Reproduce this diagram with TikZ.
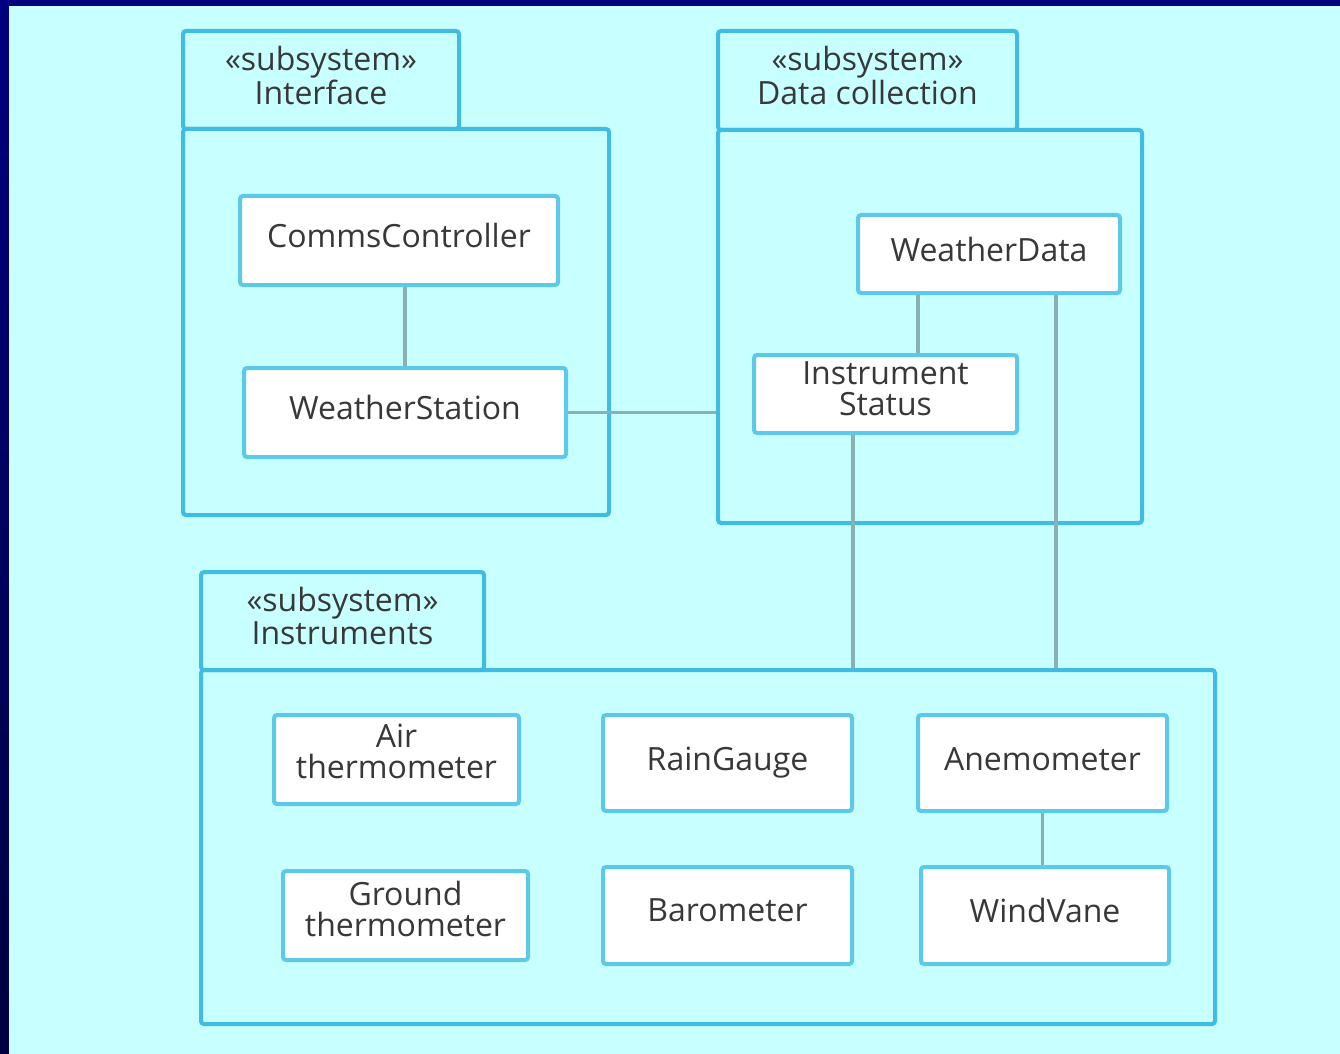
\documentclass[tikz,border=0pt]{standalone}
\usepackage{fontspec}
\setmainfont{Open Sans}
\usetikzlibrary{calc}
\definecolor{navy}{HTML}{000080}
\definecolor{navydark}{HTML}{000040}
\definecolor{paper}{HTML}{C8FFFF}
\definecolor{frame}{HTML}{3FBCE4}
\definecolor{classframe}{HTML}{5CC8EA}
\definecolor{wire}{HTML}{8AB0B2}
\definecolor{ink}{HTML}{383838}
\tikzset{
  lbl/.style={text=ink, font=\fontsize{16}{15.5}\selectfont, align=center, inner sep=0pt},
  pkgtab/.style={lbl, font=\fontsize{16}{14.8}\selectfont, text depth=5pt, draw=frame, line width=2pt, rounded corners=1.5pt, anchor=north west},
  pkgbody/.style={draw=frame, line width=2pt, rounded corners=1.5pt, anchor=north west, inner sep=0pt},
  cls/.style={lbl, text depth=5pt, draw=classframe, fill=white, line width=2pt, rounded corners=1.5pt, anchor=north west},
  wireline/.style={draw=wire, line width=1.6pt}
}
\begin{document}
\begin{tikzpicture}[x=0.5pt,y=-0.5pt]
% backdrop: navy edges, light cyan field
\fill[navy] (0,0) rectangle (1340,1054);
\shade[top color=navy, bottom color=navydark] (0,0) rectangle (9,1054);
\fill[paper] (9,6) rectangle (1340,1054);
\useasboundingbox (0,0) rectangle (1340,1054);

% Interface subsystem
\node[pkgbody, minimum width=213pt, minimum height=193pt] (ifbody) at (181,127) {};
\node[pkgtab, minimum width=138pt, minimum height=49pt] (iftab) at (181,29) {«subsystem»\\Interface};
\node[cls, minimum width=159pt, minimum height=44.5pt] (cc) at (238,194) {CommsController};
\node[cls, minimum width=161pt, minimum height=44.5pt] (ws) at (242,366) {WeatherStation};

% Data collection subsystem
\node[pkgbody, minimum width=212pt, minimum height=196.5pt] (dcbody) at (716,128) {};
\node[pkgtab, minimum width=149.5pt, minimum height=49.5pt] (dctab) at (716,29) {«subsystem»\\Data collection};
\node[cls, minimum width=131pt, minimum height=39pt] (wd) at (856,213) {WeatherData};
\node[cls, minimum width=131.5pt, minimum height=39pt] (is) at (752,353) {Instrument\\Status};

% Instruments subsystem
\node[pkgbody, minimum width=507pt, minimum height=177pt] (insbody) at (199,668) {};
\node[pkgtab, minimum width=141.5pt, minimum height=49pt] (instab) at (199,570) {«subsystem»\\Instruments};
\node[cls, text depth=8pt, minimum width=122.5pt, minimum height=44.5pt] (air) at (272,713) {Air\\thermometer};
\node[cls, text depth=3.8pt, minimum width=124.5pt, minimum height=48pt] (rg) at (601,713) {RainGauge};
\node[cls, text depth=4pt, minimum width=124.5pt, minimum height=48pt] (an) at (916,713) {Anemometer};
\node[cls, text depth=7pt, minimum width=122.5pt, minimum height=44.5pt] (gt) at (281,869) {Ground\\thermometer};
\node[cls, minimum width=124.5pt, minimum height=48.5pt] (bar) at (601,865) {Barometer};
\node[cls, minimum width=124pt, minimum height=48.5pt] (wv) at (919,865) {WindVane};

% associations
\draw[wireline] (ws.north |- cc.south) -- (ws.north);
\draw[wireline] (ws.east) -- (ws.east -| dcbody.west);
\draw[wireline] ([xshift=31pt]wd.south west) -- ([xshift=31pt]wd.south west |- is.north);
\draw[wireline] ([xshift=50.5pt]is.south west) -- ([xshift=50.5pt]is.south west |- insbody.north);
\draw[wireline] ([xshift=100pt]wd.south west) -- ([xshift=100pt]wd.south west |- insbody.north);
\draw[wireline] (an.south) -- (an.south |- wv.north);
\end{tikzpicture}
\end{document}
